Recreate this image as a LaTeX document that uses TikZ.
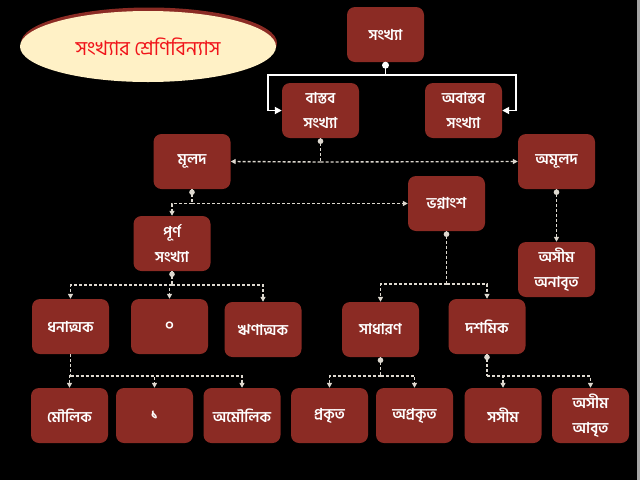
\documentclass[tikz,border=0pt]{standalone}
\usepackage{fontspec}
\newfontfamily\bn[Script=Bengali]{Hind Siliguri}
\usetikzlibrary{arrows.meta,shapes.geometric}
\definecolor{boxred}{HTML}{8B2B24}
\definecolor{conn}{HTML}{DDD8CF}
\definecolor{cream}{HTML}{FFF1C6}
\definecolor{titlered}{HTML}{F0141A}
\tikzset{
  box/.style={fill=boxred, rounded corners=8pt, minimum width=77pt, minimum height=55pt,
    inner sep=2pt, align=center, text=white, font=\bn\bfseries\fontsize{15}{25}\selectfont},
  dc/.style={draw=conn, line width=1.4pt, dash pattern=on 3pt off 2pt, -{Triangle[length=5pt,width=5pt]}},
  dcn/.style={draw=conn, line width=1.4pt, dash pattern=on 3pt off 2pt},
  dot/.style={fill=conn},
  sc/.style={draw=white, line width=1.8pt, -{Triangle[length=7pt,width=7pt]}},
  titleshape/.style={ellipse, minimum width=256pt, minimum height=71pt, inner sep=0pt},
}
\begin{document}
\begin{tikzpicture}[x=1pt, y=-1pt]
\fill[black] (0,0) rectangle (640,480);
\fill[gray!70] (637,0) rectangle (640,480);
\useasboundingbox (0,0) rectangle (640,480);
% title
\node[titleshape, fill=boxred] (tshadow) at (149,43) {};
\node[titleshape, fill=cream, text=titlered, font=\bn\fontsize{20}{24}\selectfont] (title) at (148,46.5) {সংখ্যার শ্রেণিবিন্যাস};
% boxes
\node[box] (n1) at (385.5,34.5) {সংখ্যা};
\node[box] (bas) at (320.5,110.5) {বাস্তব\\সংখ্যা};
\node[box] (abas) at (463.5,110.5) {অবাস্তব\\সংখ্যা};
\node[box] (mul) at (192,161.5) {মূলদ};
\node[box] (amul) at (556.5,161.5) {অমূলদ};
\node[box] (bhag) at (446.5,203.5) {ভগ্নাংশ};
\node[box] (purna) at (172,243.5) {পূর্ণ\\সংখ্যা};
\node[box] (asan) at (556.5,269.5) {অসীম\\অনাবৃত};
\node[box] (dhana) at (70.5,326.5) {ধনাত্মক};
\node[box] (zero) at (169.5,326.5) {০};
\node[box] (rina) at (263,329.5) {ঋণাত্মক};
\node[box] (sadh) at (380.5,329.5) {সাধারণ};
\node[box] (dash) at (487,326.5) {দশমিক};
\node[box] (mou) at (69.5,415.5) {মৌলিক};
\node[box] (one) at (154.5,415.5) {১};
\node[box] (amou) at (242,415.5) {অমৌলিক};
\node[box] (prak) at (329.5,415.5) {প্রকৃত};
\node[box] (aprak) at (414.5,415.5) {অপ্রকৃত};
\node[box] (sas) at (503,415.5) {সসীম};
\node[box] (asab) at (590.5,415.5) {অসীম\\আবৃত};
% junction coordinates
\coordinate (j1) at (385.5,75);
\coordinate (jl) at (268,75);
\coordinate (jr) at (516,75);
\coordinate (j2) at (320.5,162);
\coordinate (j3) at (192,203.5);
\coordinate (j4) at (446.5,284);
\coordinate (j5) at (172,285);
\coordinate (j6) at (70.5,376);
\coordinate (j7) at (380.5,376);
\coordinate (j8) at (487,376);
% solid connectors
\draw[white, line width=1.8pt] (n1.south) -- (j1);
\fill[white] ([yshift=-3]n1.south) circle (3.5);
\draw[sc] (j1) -- (jl) |- (bas.west);
\draw[sc] (j1) -- (jr) |- (abas.east);
% dashed connectors
\draw[dcn] (bas.south) -- (j2);
\draw[dc] (j2) -- (mul.east);
\draw[dc] (j2) -- (amul.west);
\draw[dcn] (mul.south) -- (j3);
\draw[dc] (j3) -- (bhag.west);
\draw[dc] (j3) -| (purna.north);
\draw[dc] (amul.south) -- (asan.north);
\draw[dcn] (bhag.south) -- (j4);
\draw[dc] (j4) -| (sadh.north);
\draw[dc] (j4) -| (dash.north);
\draw[dcn] (purna.south) -- (j5);
\draw[dc] (j5) -| (dhana.north);
\draw[dc] (j5) -| (zero.north);
\draw[dc] (j5) -| (rina.north);
\draw[dcn] (dhana.south) -- (j6);
\draw[dc] (j6) -| (mou.north);
\draw[dc] (j6) -| (one.north);
\draw[dc] (j6) -| (amou.north);
\draw[dcn] (sadh.south) -- (j7);
\draw[dc] (j7) -| (prak.north);
\draw[dc] (j7) -| (aprak.north);
\draw[dcn] (dash.south) -- (j8);
\draw[dc] (j8) -| (sas.north);
\draw[dc] (j8) -| (asab.north);
% start dots
\foreach \n in {bas,mul,amul,bhag,purna,sadh,dash}
  \fill[dot] ([yshift=-3]\n.south) circle (2.8);
\end{tikzpicture}
\end{document}
